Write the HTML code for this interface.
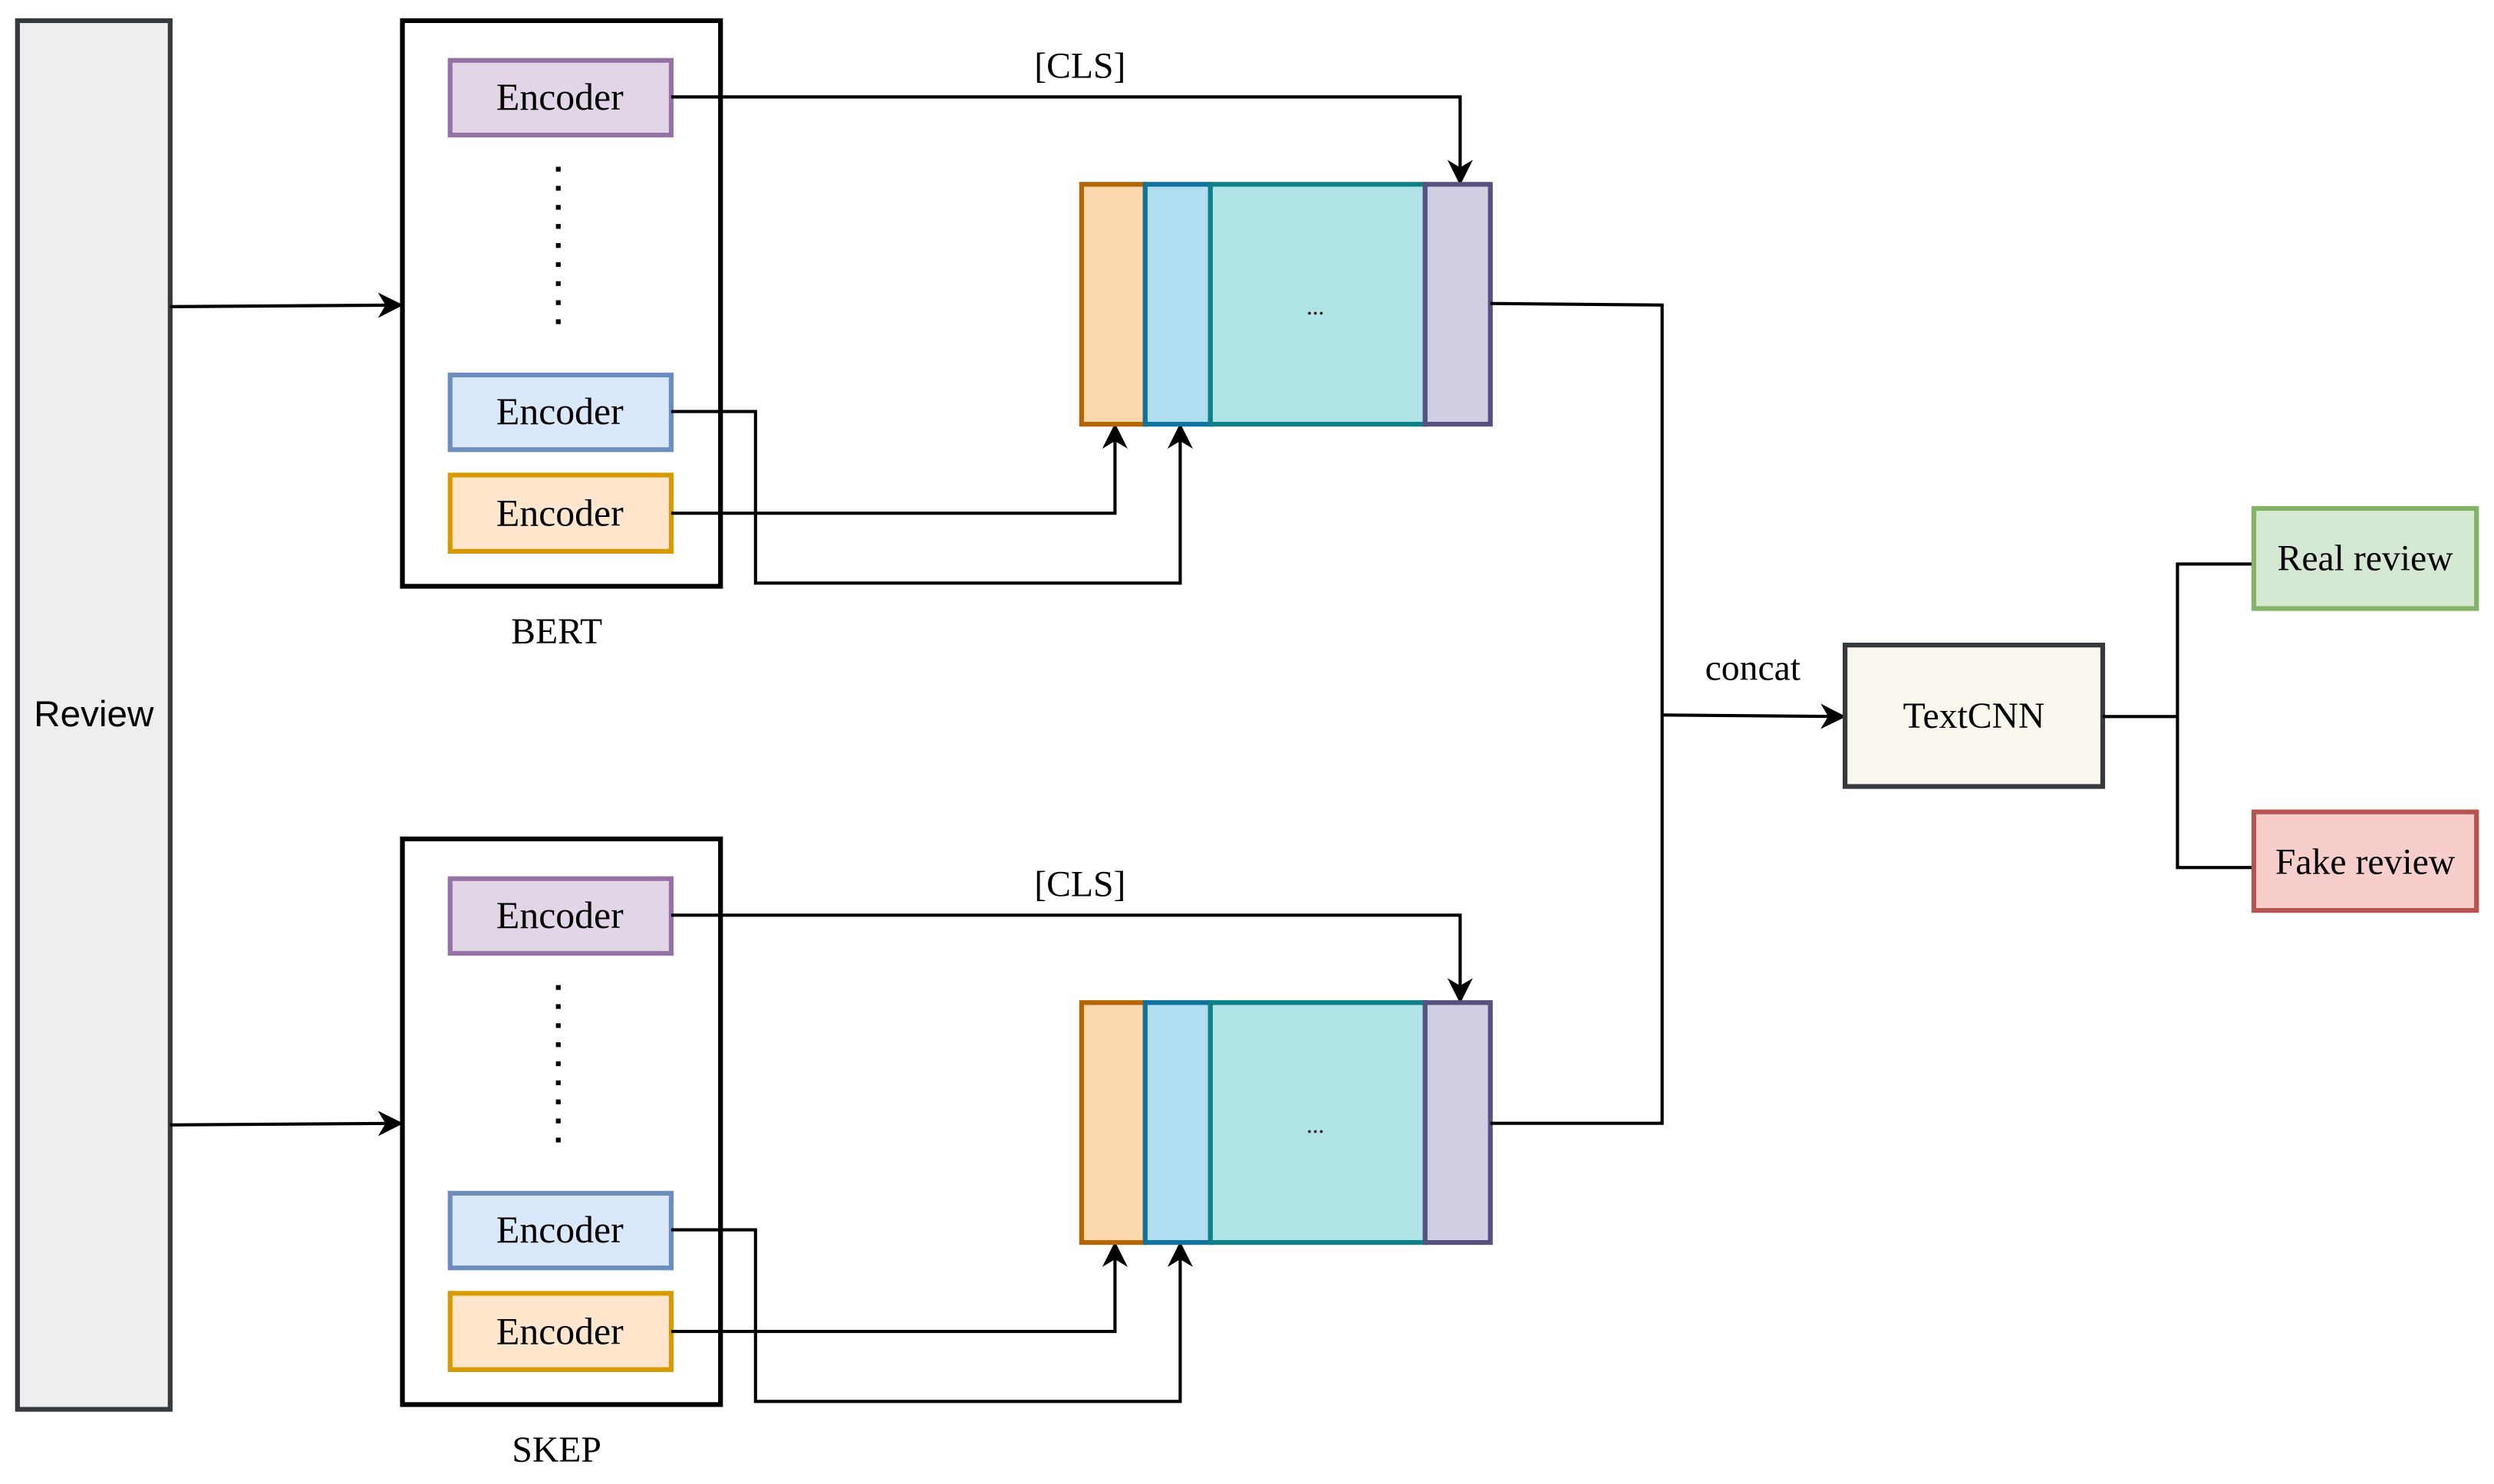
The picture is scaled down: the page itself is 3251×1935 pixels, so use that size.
<!DOCTYPE html>
<html><head><meta charset="utf-8"><style>
html,body{margin:0;padding:0;background:#fff;}
svg{display:block;}
text{font-family:"Liberation Serif",serif;}
</style></head><body>
<svg width="3251" height="1935" viewBox="0 0 1568 934" preserveAspectRatio="none" xmlns="http://www.w3.org/2000/svg">
<defs>
<marker id="ar" viewBox="0 0 10 10" refX="9" refY="5" markerWidth="16" markerHeight="16" orient="auto" markerUnits="userSpaceOnUse">
<path d="M0,0 L10,5 L0,10 L3,5 z" fill="#000"/>
</marker>
</defs>
<rect x="11" y="13" width="96" height="874" fill="#eeeeee" stroke="#36393d" stroke-width="3"/>
<text x="59" y="457" font-size="23" text-anchor="middle" style="font-family:'Liberation Sans',sans-serif">Review</text>

<rect x="253" y="13" width="200" height="356" fill="#fff" stroke="#000" stroke-width="3"/>
<text x="350" y="405" font-size="23" text-anchor="middle">BERT</text>
<rect x="253" y="528" width="200" height="356" fill="#fff" stroke="#000" stroke-width="3"/>
<text x="350" y="920" font-size="23" text-anchor="middle">SKEP</text>

<g id="top">
<rect x="283" y="38" width="139" height="47" fill="#e1d5e7" stroke="#9673a6" stroke-width="3"/>
<text x="352" y="69" font-size="24" text-anchor="middle">Encoder</text>
<line x1="351" y1="105" x2="351" y2="205" stroke="#000" stroke-width="3" stroke-dasharray="3 9"/>
<rect x="283" y="236" width="139" height="47" fill="#dae8fc" stroke="#6c8ebf" stroke-width="3"/>
<text x="352" y="267" font-size="24" text-anchor="middle">Encoder</text>
<rect x="283" y="299" width="139" height="48" fill="#ffe6cc" stroke="#d79b00" stroke-width="3"/>
<text x="352" y="331" font-size="24" text-anchor="middle">Encoder</text>
<line x1="107" y1="193" x2="252" y2="192" stroke="#000" stroke-width="2" marker-end="url(#ar)"/>
<text x="679" y="49" font-size="23" text-anchor="middle">[CLS]</text>
<polyline points="422,61 918,61 918,115" fill="none" stroke="#000" stroke-width="2" marker-end="url(#ar)"/>
<polyline points="422,259 475,259 475,367 742,367 742,268" fill="none" stroke="#000" stroke-width="2" marker-end="url(#ar)"/>
<polyline points="422,323 701,323 701,268" fill="none" stroke="#000" stroke-width="2" marker-end="url(#ar)"/>
<rect x="680" y="116" width="40" height="151" fill="#fad7ac" stroke="#b46504" stroke-width="3"/>
<rect x="720" y="116" width="41" height="151" fill="#b1ddf0" stroke="#10739e" stroke-width="3"/>
<rect x="761" y="116" width="135" height="151" fill="#b0e3e6" stroke="#0e8088" stroke-width="3"/>
<rect x="896" y="116" width="41" height="151" fill="#d0cee2" stroke="#56517e" stroke-width="3"/>
<text x="827" y="198" font-size="15" text-anchor="middle">...</text>
</g>
<use href="#top" transform="translate(0,515)"/>
<polyline points="937,191 1045,192 1045,707 937,707" fill="none" stroke="#000" stroke-width="2"/>
<line x1="1045" y1="450" x2="1159" y2="451" stroke="#000" stroke-width="2" marker-end="url(#ar)"/>
<text x="1102" y="428" font-size="23" text-anchor="middle">concat</text>
<rect x="1160" y="406" width="162" height="89" fill="#f9f7ed" stroke="#36393d" stroke-width="3"/>
<text x="1241" y="458" font-size="23" text-anchor="middle">TextCNN</text>
<polyline points="1322,451 1369,451" fill="none" stroke="#000" stroke-width="2"/>
<polyline points="1417,355 1369,355 1369,546 1417,546" fill="none" stroke="#000" stroke-width="2"/>
<rect x="1417" y="320" width="140" height="63" fill="#d5e8d4" stroke="#82b366" stroke-width="3"/>
<text x="1487" y="359" font-size="23" text-anchor="middle">Real review</text>
<rect x="1417" y="511" width="140" height="62" fill="#f8cecc" stroke="#b85450" stroke-width="3"/>
<text x="1487" y="550" font-size="23" text-anchor="middle">Fake review</text>
</svg>
</body></html>
